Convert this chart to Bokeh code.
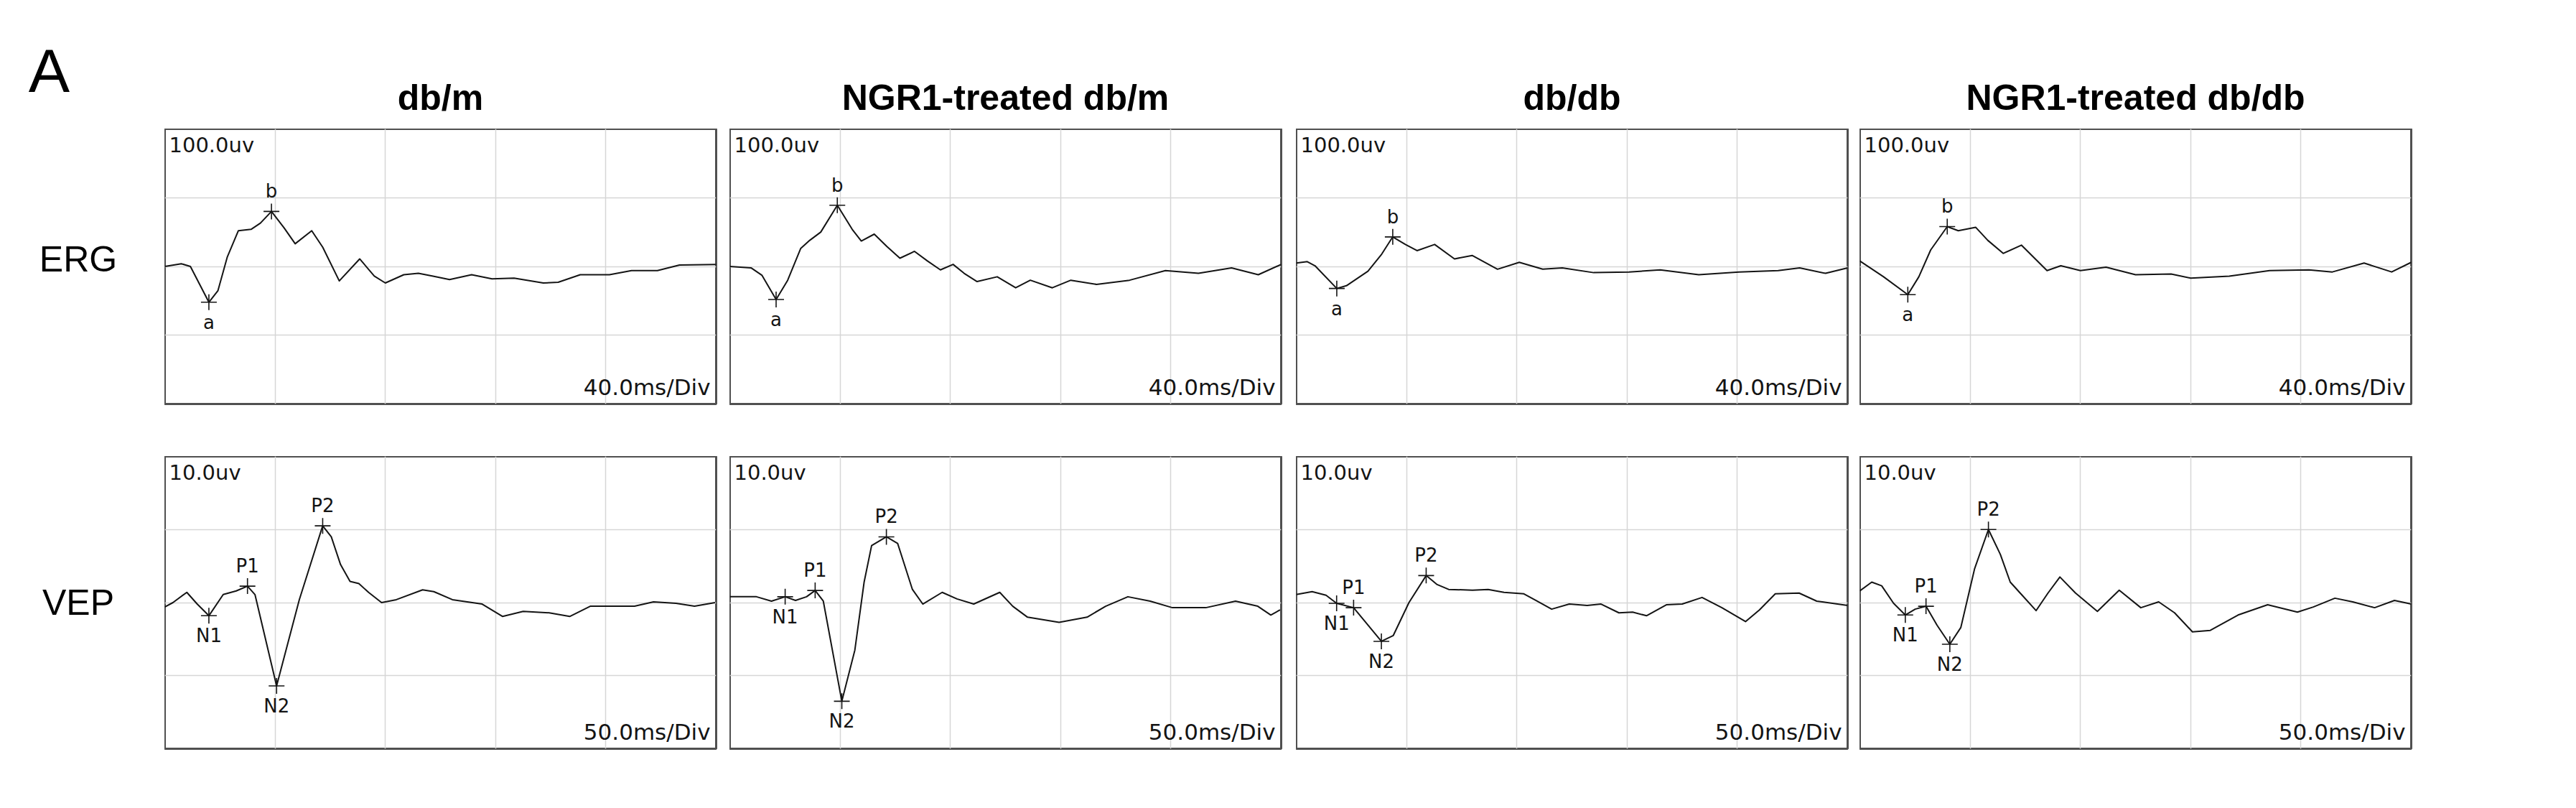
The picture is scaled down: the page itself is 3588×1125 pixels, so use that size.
from bokeh.plotting import figure
from bokeh.layouts import row, column
from bokeh.models import Grid, FixedTicker, Range1d
from bokeh.embed import file_html
from bokeh.resources import INLINE
from bokeh.core.properties import value

# ---------------- data ----------------
col_titles = ["db/m", "NGR1-treated db/m", "db/db", "NGR1-treated db/db"]
row_titles = ["ERG", "VEP"]
panel_letter = "A"

erg_scale_text = "100.0uv"
erg_div_text = "40.0ms/Div"
vep_scale_text = "10.0uv"
vep_div_text = "50.0ms/Div"
erg_ms_per_div = 40
erg_uv_per_div = 100
vep_ms_per_div = 50
vep_uv_per_div = 10
n_xdiv = 5
n_ydiv = 4

# ERG traces (time ms, amplitude uV)
erg1_t = [0, 6, 9.3, 16, 19.3, 22.7, 26.7, 31.3, 34.7, 38.7, 43.3, 47.3, 53.3, 57.3, 63.3, 70.7, 76, 80, 86.7,
          92, 97.3, 103.3, 111.3, 118.7, 126.7, 137.3, 142.7, 150.7, 161.3, 169.3, 178.7, 186.7, 200]
erg1_v = [0, 4, 0, -52, -35, 14, 52, 54, 63, 80, 56, 33, 52, 28, -21, 11, -14, -24, -12,
          -10, -14, -19, -12, -18, -17, -24, -23, -12, -12, -6, -6, 2, 3]
erg1_pk = ["a", "b"]
erg1_pk_t = [16, 38.7]
erg1_pk_v = [-52, 80]

erg2_t = [0, 7.7, 11.7, 16.8, 21, 25.7, 29, 33, 39, 44.4, 47.7, 52.4, 57, 61.7, 67, 71.7, 76.4, 81, 85, 89.7,
          97, 103.7, 109, 117, 123.7, 133, 145, 158, 170, 182, 191.7, 200]
erg2_v = [0, -2, -13, -48, -20, 26, 38, 50, 89, 54, 37, 47, 29, 12, 22, 8, -5, 3, -10, -22,
          -15, -31, -20, -31, -20, -26, -20, -6, -10, -2, -12, 3]
erg2_pk = ["a", "b"]
erg2_pk_t = [16.8, 39]
erg2_pk_v = [-48, 89]

erg3_t = [0, 4, 6.8, 14.7, 18.2, 26, 31, 35, 39.6, 43.8, 50.2, 57.4, 63.8, 73, 80.9, 89.4, 96.5, 107.9, 120.7,
          132, 146, 160.6, 174.8, 182.6, 192, 200]
erg3_v = [5, 7, 1, -32, -28, -7, 18, 43, 32, 23, 32, 11, 16, -4, 6, -4, -2, -9, -8,
          -5, -12, -8, -6, -2, -10, -2]
erg3_pk = ["a", "b"]
erg3_pk_t = [14.7, 35]
erg3_pk_v = [-32, 43]

erg4_t = [0, 8.6, 17.4, 21.4, 25.7, 31.7, 35.7, 42, 46.4, 52, 58.6, 67.9, 72.9, 80, 89.3, 100, 112.9, 120, 134,
          148.6, 162.9, 171.4, 182.9, 192.9, 200]
erg4_v = [8, -15, -41, -15, 24, 58, 52, 57, 38, 19, 31, -6, 1, -6, -1, -12, -11, -17, -14,
          -6, -5, -8, 5, -8, 6]
erg4_pk = ["a", "b"]
erg4_pk_t = [17.4, 31.7]
erg4_pk_v = [-41, 58]

# VEP traces (time ms, amplitude uV)
vep1_t = [0, 3.7, 10, 14.7, 20, 26.5, 32.4, 37.5, 40.9, 50.7, 61, 71.6, 75.5, 79.7, 84, 88, 92.4, 98.3, 105,
          116.9, 122, 130.4, 143.9, 153.2, 162.5, 174.3, 183.6, 192.9, 213, 221.6, 231.8, 240.2, 249.5]
vep1_v = [-0.6, 0, 1.4, -0.2, -1.8, 1.1, 1.6, 2.25, 1.1, -11.4, 0.4, 10.5, 9, 5.2, 2.9, 2.6, 1.4, 0, 0.4,
          1.75, 1.5, 0.4, -0.2, -1.9, -1.2, -1.4, -1.9, -0.5, -0.5, 0.1, -0.1, -0.5, 0]
vep1_pk = ["N1", "P1", "N2", "P2"]
vep1_pk_t = [20, 37.5, 50.7, 71.6]
vep1_pk_v = [-1.8, 2.25, -11.4, 10.5]

vep2_t = [0, 12.1, 18.9, 25.1, 29.8, 34.8, 38.7, 42.4, 50.8, 56.7, 60.9, 64.3, 71, 76.1, 82.8, 87.5, 96.3, 103,
          110.6, 122.4, 128.3, 135, 149.3, 162, 170.4, 180.5, 190.6, 200.7, 215.8, 229.3, 239.4, 245.3, 249.5]
vep2_v = [0.8, 0.8, 0.2, 0.8, 0.3, 0.8, 1.66, 0.2, -13.5, -6.5, 2.8, 7.8, 9, 8.1, 1.8, -0.2, 1.4, 0.5,
          -0.2, 1.4, -0.5, -2, -2.7, -2, -0.5, 0.8, 0.2, -0.7, -0.7, 0.2, -0.5, -1.7, -1]
vep2_pk = ["N1", "P1", "N2", "P2"]
vep2_pk_t = [25.1, 38.7, 50.8, 71]
vep2_pk_v = [0.8, 1.66, -13.5, 9]

vep3_t = [0, 7.2, 13.5, 18.3, 26, 38.6, 44, 51.1, 58.9, 63.7, 69.1, 79.9, 87, 94.2, 103.2, 108.6, 115.8, 123.8,
          131.9, 138.2, 146.3, 152.5, 158.8, 167.8, 175, 184, 193, 203.7, 210, 217.2, 228, 236, 250]
vep3_v = [1.1, 1.5, 1, -0.1, -0.7, -5.3, -4.5, 0, 3.7, 2.5, 1.8, 1.7, 1.8, 1.4, 1.2, 0.3, -0.9, -0.2,
          -0.4, -0.2, -1.4, -1.3, -1.8, -0.3, -0.2, 0.7, -0.7, -2.6, -1, 1.2, 1.3, 0.2, -0.4]
vep3_pk = ["N1", "P1", "N2", "P2"]
vep3_pk_t = [18.3, 26, 38.6, 58.9]
vep3_pk_v = [-0.1, -0.7, -5.3, 3.7]

vep4_t = [0, 5.4, 9.9, 15.3, 20.6, 25.1, 30, 35, 40.8, 45.8, 52, 58.3, 63.7, 68.2, 72.7, 79.9, 85.3, 90.7, 97.8,
          107.7, 117.6, 127.4, 135.5, 142.7, 150.8, 158.9, 171.5, 184.9, 198.4, 205.6, 215.4, 223.5, 233.4, 242.4, 250]
vep4_v = [1.6, 2.8, 2.3, -0.1, -1.7, -0.9, -0.5, -3.1, -5.7, -3.4, 4.6, 10, 6.6, 2.8, 1.3, -1.1, 1.3, 3.5, 1.3,
          -1.2, 1.7, -0.7, 0.1, -1.4, -4, -3.8, -1.7, -0.3, -1.3, -0.6, 0.6, 0.1, -0.7, 0.3, -0.2]
vep4_pk = ["N1", "P1", "N2", "P2"]
vep4_pk_t = [20.6, 30, 40.8, 58.3]
vep4_pk_v = [-1.7, -0.5, -5.7, 10]

erg_data = [(erg1_t, erg1_v, erg1_pk, erg1_pk_t, erg1_pk_v),
            (erg2_t, erg2_v, erg2_pk, erg2_pk_t, erg2_pk_v),
            (erg3_t, erg3_v, erg3_pk, erg3_pk_t, erg3_pk_v),
            (erg4_t, erg4_v, erg4_pk, erg4_pk_t, erg4_pk_v)]
vep_data = [(vep1_t, vep1_v, vep1_pk, vep1_pk_t, vep1_pk_v),
            (vep2_t, vep2_v, vep2_pk, vep2_pk_t, vep2_pk_v),
            (vep3_t, vep3_v, vep3_pk, vep3_pk_t, vep3_pk_v),
            (vep4_t, vep4_v, vep4_pk, vep4_pk_t, vep4_pk_v)]

# ---------------- styling / layout ----------------
FONT = "DejaVu Sans"
HEAD_FONT = "Liberation Sans"
INK = "#141414"
FRAME_W = 768
ERG_H = 383
VEP_H = 407
LEFT_W = 229
RIGHT_GAPS = [19, 21, 17, 8]
HDR_H = 179
ERG_BOTTOM = 73
VEP_BOTTOM = 20


def blank(w, h, br=0, bb=0, yr=None):
    p = figure(frame_width=w, frame_height=h, x_range=Range1d(0, 1),
               y_range=yr if yr is not None else Range1d(0, 1),
               x_axis_type=None, y_axis_type=None, toolbar_location=None,
               output_backend="svg", title=None,
               min_border_left=0, min_border_right=br, min_border_top=0, min_border_bottom=bb)
    p.outline_line_color = None
    p.background_fill_color = "white"
    p.border_fill_color = "white"
    return p


def make_panel(trace, ms_div, uv_div, scale_txt, div_txt, fh, br, bb):
    t, v, pk, pk_t, pk_v = trace
    xr = Range1d(0, ms_div * n_xdiv)
    yr = Range1d(-uv_div * n_ydiv / 2, uv_div * n_ydiv / 2)
    p = figure(frame_width=FRAME_W, frame_height=fh, x_range=xr, y_range=yr,
               x_axis_type=None, y_axis_type=None, toolbar_location=None,
               output_backend="svg", title=None,
               min_border_left=0, min_border_right=br, min_border_top=0, min_border_bottom=bb)
    p.background_fill_color = "white"
    p.border_fill_color = "white"
    p.outline_line_color = "#505050"
    p.outline_line_width = 3
    p.add_layout(Grid(dimension=0, ticker=FixedTicker(ticks=[ms_div * i for i in range(1, n_xdiv)]),
                      grid_line_color="#d6d6d6", grid_line_width=1.5))
    p.add_layout(Grid(dimension=1, ticker=FixedTicker(ticks=[uv_div * (i - n_ydiv / 2) for i in range(1, n_ydiv)]),
                      grid_line_color="#d6d6d6", grid_line_width=1.5))
    p.line(t, v, line_color=INK, line_width=2, line_join="round")
    p.scatter(pk_t, pk_v, marker="cross", size=22, line_color=INK, line_width=1.6)
    offs = [28 if (n.startswith("N") or n == "a") else -28 for n in pk]
    p.text(x=pk_t, y=pk_v, text=pk, y_offset=offs, text_align="center",
           text_baseline="middle", text_font=value(FONT), text_font_size="26px", text_color=INK)
    p.text(x=[xr.start], y=[yr.end], text=[scale_txt], x_offset=6, y_offset=5, text_align="left",
           text_baseline="top", text_font=value(FONT), text_font_size="29px", text_color=INK)
    p.text(x=[xr.end], y=[yr.start], text=[div_txt], x_offset=-8, y_offset=-6, text_align="right",
           text_baseline="bottom", text_font=value(FONT), text_font_size="31px", text_color=INK)
    return p


# header row: panel letter + column titles
hdr_left = blank(LEFT_W, HDR_H)
hdr_left.text(x=[0], y=[0], text=[panel_letter], x_offset=68, y_offset=-82, text_align="center",
              text_baseline="middle", text_font=value(HEAD_FONT), text_font_size="86px", text_color="black")
headers = [hdr_left]
for i in range(4):
    h = blank(FRAME_W, HDR_H, br=RIGHT_GAPS[i])
    h.text(x=[0.5], y=[0], text=[col_titles[i]], y_offset=-44, text_align="center",
           text_baseline="alphabetic", text_font=value(HEAD_FONT), text_font_style="bold",
           text_font_size="50px", text_color="black")
    headers.append(h)

erg_figs = [make_panel(erg_data[i], erg_ms_per_div, erg_uv_per_div, erg_scale_text, erg_div_text,
                       ERG_H, RIGHT_GAPS[i], ERG_BOTTOM) for i in range(4)]
vep_figs = [make_panel(vep_data[i], vep_ms_per_div, vep_uv_per_div, vep_scale_text, vep_div_text,
                       VEP_H, RIGHT_GAPS[i], VEP_BOTTOM) for i in range(4)]

erg_lbl = blank(LEFT_W, ERG_H, bb=ERG_BOTTOM, yr=erg_figs[0].y_range)
erg_lbl.text(x=[0.5], y=[0], text=[row_titles[0]], x_offset=-6, y_offset=-10, text_align="center",
             text_baseline="middle", text_font=value(HEAD_FONT), text_font_size="50px", text_color="black")
vep_lbl = blank(LEFT_W, VEP_H, bb=VEP_BOTTOM, yr=vep_figs[0].y_range)
vep_lbl.text(x=[0.5], y=[0], text=[row_titles[1]], x_offset=-6, y_offset=0, text_align="center",
             text_baseline="middle", text_font=value(HEAD_FONT), text_font_size="50px", text_color="black")

layout = column(row(*headers), row(erg_lbl, *erg_figs), row(vep_lbl, *vep_figs))
open("out.html", "w").write(file_html(layout, INLINE))
